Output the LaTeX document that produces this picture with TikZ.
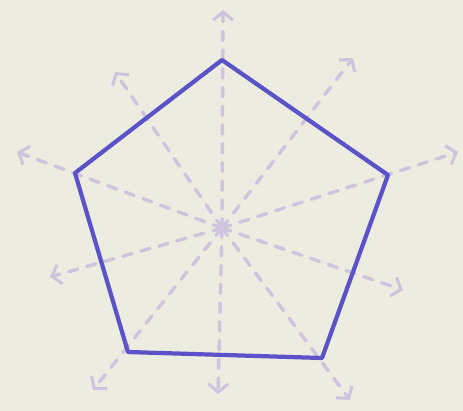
\documentclass[tikz,border=0pt]{standalone}
\usepackage{xcolor}
\usepackage{tikz}
\usetikzlibrary{arrows.meta}

\definecolor{paper}{RGB}{236,236,225}
\definecolor{penink}{RGB}{92,82,200}
\definecolor{rayink}{RGB}{206,196,222}

\begin{document}
\begin{tikzpicture}[x=0.03cm, y=-0.03cm,
    edge/.style={draw=penink, line width=3.6pt, line join=round},
    ray/.style={draw=rayink, line width=2.9pt, line cap=round,
        dash pattern=on 8pt off 8pt,
        -{Straight Barb[length=7pt,width=17pt,line width=2.6pt]}}]

% paper
\fill[paper] (0,0) rectangle (463,411);
\useasboundingbox (0,0) rectangle (463,411);

% centre and corners
\coordinate (c) at (222,228);
\coordinate (top) at (222,60);
\coordinate (right) at (388,175);
\coordinate (botright) at (322,358);
\coordinate (botleft) at (128,352);
\coordinate (left) at (75,173);

% ray ends
\coordinate (rn) at (223,10);
\coordinate (rne) at (353,58);
\coordinate (re) at (458,152);
\coordinate (rse) at (403,290);
\coordinate (rsse) at (350,400);
\coordinate (rs) at (218,394);
\coordinate (rssw) at (93,390);
\coordinate (rsw) at (50,277);
\coordinate (rw) at (17,152);
\coordinate (rnw) at (115,72);

% rays
\foreach \r in {rn,rne,re,rse,rsse,rs,rssw,rsw,rw,rnw}
  \draw[ray] (c) -- (\r);

% pentagon
\draw[edge] (top) -- (right) -- (botright) -- (botleft) -- (left) -- cycle;

\end{tikzpicture}
\end{document}
